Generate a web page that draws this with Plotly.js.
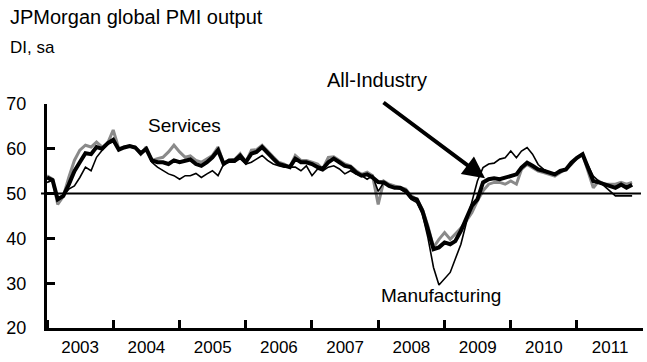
<!DOCTYPE html>
<html>
<head>
<meta charset="utf-8">
<script src="https://cdn.plot.ly/plotly-3.0.1.min.js"></script>
<style>html,body{margin:0;padding:0;background:#fff;}#chart{width:647px;height:362px;}</style>
</head>
<body>
<div id="chart"></div>
<script>
// Monthly series, Jan 2003 .. Nov 2011 (diffusion index, sa)
var startYear = 2003;
var allIndustry = [
53.6,53.0,48.7,49.5,52.0,55.0,57.0,59.0,58.8,60.4,60.0,61.2,
62.0,59.8,60.3,60.6,60.3,59.0,60.0,57.4,57.0,57.0,56.6,57.4,
57.0,57.4,57.6,56.6,56.2,57.0,58.1,59.7,56.6,57.4,57.4,58.5,
57.0,58.9,59.3,60.4,59.0,57.8,56.6,56.2,55.9,57.8,57.0,57.0,
56.6,55.9,55.5,57.0,57.8,57.0,56.2,55.9,54.7,54.0,54.3,53.6,
52.6,52.5,51.7,51.3,51.3,50.6,49.1,48.7,46.1,42.0,37.6,38.0,
39.1,38.7,39.4,41.7,44.3,47.3,48.7,52.5,53.2,53.4,53.2,53.6,
54.0,54.3,55.8,56.9,56.2,55.4,55.1,54.7,54.3,55.1,55.4,56.9,
58.0,58.8,55.8,52.8,52.5,52.1,51.7,51.3,52.0,51.3,52.0];
var services = [
54.0,53.2,47.6,49.4,53.6,57.4,59.7,60.8,60.4,61.5,60.4,61.2,
64.2,60.0,60.4,60.6,60.4,58.8,60.4,57.4,57.8,58.1,59.3,60.8,
59.3,58.1,58.4,57.4,57.0,57.8,58.5,60.4,56.8,57.4,57.6,58.9,
57.0,59.7,59.8,60.8,59.4,58.2,57.0,56.6,55.9,58.5,57.4,57.4,
57.0,56.6,55.5,58.1,58.2,57.4,56.6,56.2,55.1,54.3,54.8,54.0,
47.6,52.8,52.1,51.7,51.3,51.0,49.5,48.7,46.5,42.8,38.0,39.8,
41.3,39.8,41.0,42.3,43.9,45.8,48.4,50.6,52.1,52.5,52.5,52.1,
52.8,52.1,55.4,56.5,55.8,55.0,54.7,54.3,53.9,54.7,55.4,56.5,
58.0,58.8,55.1,51.3,52.8,52.1,52.1,52.1,52.5,52.1,52.5];
var manufacturing = [
52.5,53.0,49.0,49.6,51.0,51.7,53.6,55.9,55.1,58.1,59.7,61.2,
61.5,60.0,60.4,60.6,60.3,59.3,59.8,57.0,55.9,55.1,54.4,54.0,
53.2,54.0,54.0,54.5,53.6,54.4,55.1,54.0,56.6,57.0,57.0,57.8,
56.6,57.0,57.8,58.5,57.4,56.6,56.2,55.9,55.9,55.9,55.1,56.2,
54.0,55.5,55.1,55.9,56.2,55.5,54.4,55.1,54.4,54.0,53.2,54.0,
50.5,52.5,51.7,51.3,51.0,50.2,48.7,48.0,45.4,40.2,33.5,29.6,
31.0,32.4,35.4,38.7,43.5,48.0,52.8,55.8,56.6,56.8,57.7,58.0,
59.5,58.0,59.5,60.3,58.8,56.5,55.4,54.7,54.3,54.7,55.4,56.5,
58.0,58.8,56.5,53.9,52.8,51.7,50.6,49.5,49.5,49.5,49.5];
var yearLabels = ['2003','2004','2005','2006','2007','2008','2009','2010','2011'];

function monthDates(n){
  var out = [];
  for (var i = 0; i < n; i++){
    var y = startYear + Math.floor(i/12), m = (i%12)+1;
    out.push(y + '-' + (m<10?'0':'') + m + '-01');
  }
  return out;
}
var dates = monthDates(allIndustry.length);
var tickDates = yearLabels.map(function(y){return y + '-01-01';});

var sans = 'Liberation Sans, Arial, sans-serif';

var traces = [
  {x: dates, y: services, type:'scatter', mode:'lines', name:'Services',
   line:{color:'#8a8a8a', width:3}, hoverinfo:'skip'},
  {x: dates, y: allIndustry, type:'scatter', mode:'lines', name:'All-Industry',
   line:{color:'#000', width:4}, hoverinfo:'skip'},
  {x: dates, y: manufacturing, type:'scatter', mode:'lines', name:'Manufacturing',
   line:{color:'#000', width:1.6}, hoverinfo:'skip'}
];

var xRange = ['2003-01-01','2011-12-31'];
var layout = {
  width:647, height:362,
  margin:{l:47, r:4, t:104, b:34},
  paper_bgcolor:'#fff', plot_bgcolor:'#fff',
  showlegend:false,
  xaxis:{type:'date', range:xRange, tick0:tickDates[0], dtick:'M12',
    ticklabelmode:'period', tickformat:'%Y',
    showline:true, linecolor:'#000', linewidth:3,
    ticks:'inside', ticklen:8, tickwidth:3, tickcolor:'#000',
    showgrid:false, zeroline:false, ticklabelstandoff:2,
    tickfont:{family:sans, size:17, color:'#000'}},
  xaxis2:{type:'date', range:xRange, tick0:tickDates[0], dtick:'M12', overlaying:'x', anchor:'y',
    side:'bottom', showticklabels:false, showline:false, showgrid:false, zeroline:false,
    ticks:'outside', ticklen:9, tickwidth:3, tickcolor:'#000'},
  yaxis:{range:[20,70], tickvals:[20,30,40,50,60,70],
    showline:true, linecolor:'#000', linewidth:3,
    ticks:'inside', ticklen:8, tickwidth:3, tickcolor:'#000',
    showgrid:false, zeroline:false, ticklabelstandoff:14,
    tickfont:{family:sans, size:18, color:'#000'}},
  shapes:[
    {type:'line', xref:'paper', yref:'y', x0:-0.01, x1:0.9966, y0:50, y1:50,
     line:{color:'#000', width:2}}
  ],
  annotations:[
    {text:'JPMorgan global PMI output', xref:'paper', yref:'paper', x:-0.0654, y:1.39,
     xanchor:'left', yanchor:'middle', showarrow:false,
     font:{family:sans, size:20, color:'#000'}},
    {text:'DI, sa', xref:'paper', yref:'paper', x:-0.0654, y:1.254,
     xanchor:'left', yanchor:'middle', showarrow:false,
     font:{family:sans, size:17, color:'#000'}},
    {text:'Services', xref:'paper', yref:'paper', x:0.2307, y:0.905,
     xanchor:'center', yanchor:'middle', showarrow:false,
     font:{family:sans, size:19, color:'#000'}},
    {text:'Manufacturing', xref:'paper', yref:'paper', x:0.661, y:0.143,
     xanchor:'center', yanchor:'middle', showarrow:false,
     font:{family:sans, size:19, color:'#000'}},
    {text:'All-Industry', xref:'paper', yref:'paper', x:0.5529, y:1.105,
     xanchor:'center', yanchor:'middle', showarrow:false,
     font:{family:sans, size:20, color:'#000'}},
    {text:'', xref:'paper', yref:'paper', x:0.7349, y:0.668,
     showarrow:true, ax:-103, ay:-77, arrowhead:2, arrowsize:1.1, arrowwidth:4,
     arrowcolor:'#000'}
  ]
};

Plotly.newPlot('chart', traces, layout, {staticPlot:true, displayModeBar:false});
</script>
</body>
</html>
